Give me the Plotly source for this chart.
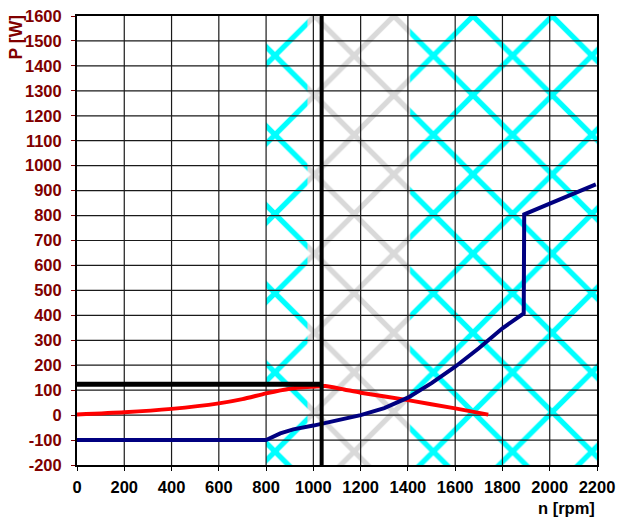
import plotly.graph_objects as go

# ---- data ----
n_red = [0, 200, 400, 600, 700, 800, 900, 1000, 1050, 1130, 1200, 1400, 1600, 1740]
p_red = [2, 11, 25, 47, 64, 87, 106, 114, 117, 103, 90, 60, 27, 2]

n_blue = [0, 800, 860, 915, 1000, 1100, 1200, 1300, 1400, 1500, 1600, 1700, 1800, 1890, 1892, 2000, 2100, 2195]
p_blue = [-100, -100, -73, -57, -42, -22, 0, 28, 70, 128, 194, 268, 348, 408, 805, 848, 888, 925]

n_opt = 1035
p_opt = 124

band_cyan = [800, 2200]
band_gray = [975, 1410]

x_range = [0, 2200]
y_range = [-200, 1600]
x_ticks = list(range(0, 2201, 200))
y_ticks = list(range(-200, 1601, 100))
x_ticktext = [str(v) for v in x_ticks]
y_ticktext = [str(v) for v in y_ticks]

DARKRED = "#800000"
FONT = "Liberation Sans, Arial"
FS = 16.5

fig = go.Figure()


def band(lo, hi, color):
    return go.Scatter(
        x=[lo, hi, hi, lo, lo],
        y=[y_range[0], y_range[0], y_range[1], y_range[1], y_range[0]],
        mode="none", fill="toself", fillcolor="white",
        fillpattern=dict(shape="x", fgcolor=color, fgopacity=1, bgcolor="white",
                         size=56, solidity=0.18),
        hoverinfo="skip", showlegend=False,
    )


fig.add_trace(band(band_cyan[0], band_cyan[1], "#00FFFF"))
fig.add_trace(band(band_gray[0], band_gray[1], "#D9D9D9"))

# grid lines drawn above the patterned bands
gx, gy = [], []
for v in x_ticks[1:-1]:
    gx += [v, v, None]
    gy += [y_range[0], y_range[1], None]
for v in y_ticks[1:-1]:
    gx += [x_range[0], x_range[1], None]
    gy += [v, v, None]
fig.add_trace(go.Scatter(x=gx, y=gy, mode="lines", line=dict(color="#1a1a1a", width=1.2),
                         hoverinfo="skip", showlegend=False))

fig.add_trace(go.Scatter(x=n_red, y=p_red, mode="lines",
                         line=dict(color="#FF0000", width=4, shape="spline", smoothing=0.6),
                         showlegend=False))
fig.add_trace(go.Scatter(x=n_blue, y=p_blue, mode="lines",
                         line=dict(color="#000080", width=4), showlegend=False))
fig.add_trace(go.Scatter(x=[x_range[0], n_opt], y=[p_opt, p_opt], mode="lines",
                         line=dict(color="black", width=5), showlegend=False))
fig.add_trace(go.Scatter(x=[n_opt, n_opt], y=y_range, mode="lines",
                         line=dict(color="black", width=4), showlegend=False))

fig.update_layout(
    width=617, height=519,
    margin=dict(l=77, r=20, t=16, b=54),
    paper_bgcolor="white", plot_bgcolor="white",
    font=dict(family=FONT, size=FS, color="black"),
)
fig.update_xaxes(range=x_range, tickvals=x_ticks, ticktext=x_ticktext, showgrid=False,
                 showline=True, linecolor="black", linewidth=2, mirror=True,
                 ticks="outside", ticklen=4, tickcolor="black", zeroline=False,
                 automargin=False, ticklabelstandoff=2,
                 tickfont=dict(family=FONT, size=FS, color="black", weight="bold"))
fig.update_yaxes(range=y_range, tickvals=y_ticks, ticktext=y_ticktext, showgrid=False,
                 showline=True, linecolor="black", linewidth=2, mirror=True,
                 ticks="outside", ticklen=4, tickcolor=DARKRED, zeroline=False,
                 automargin=False, ticklabelstandoff=6,
                 tickfont=dict(family=FONT, size=FS, color=DARKRED, weight="bold"))

fig.add_annotation(text="P [W]", xref="paper", yref="paper", x=-0.118, y=1.005,
                   xanchor="center", yanchor="top", textangle=-90, showarrow=False,
                   font=dict(family=FONT, size=FS + 1, color=DARKRED, weight="bold"))
fig.add_annotation(text="n [rpm]", xref="paper", yref="paper", x=1.0, y=-0.072,
                   xanchor="right", yanchor="top", showarrow=False,
                   font=dict(family=FONT, size=FS, color="black", weight="bold"))

fig.write_html("out.html", config={"displayModeBar": False},
               post_script="document.body.style.margin='0';")
